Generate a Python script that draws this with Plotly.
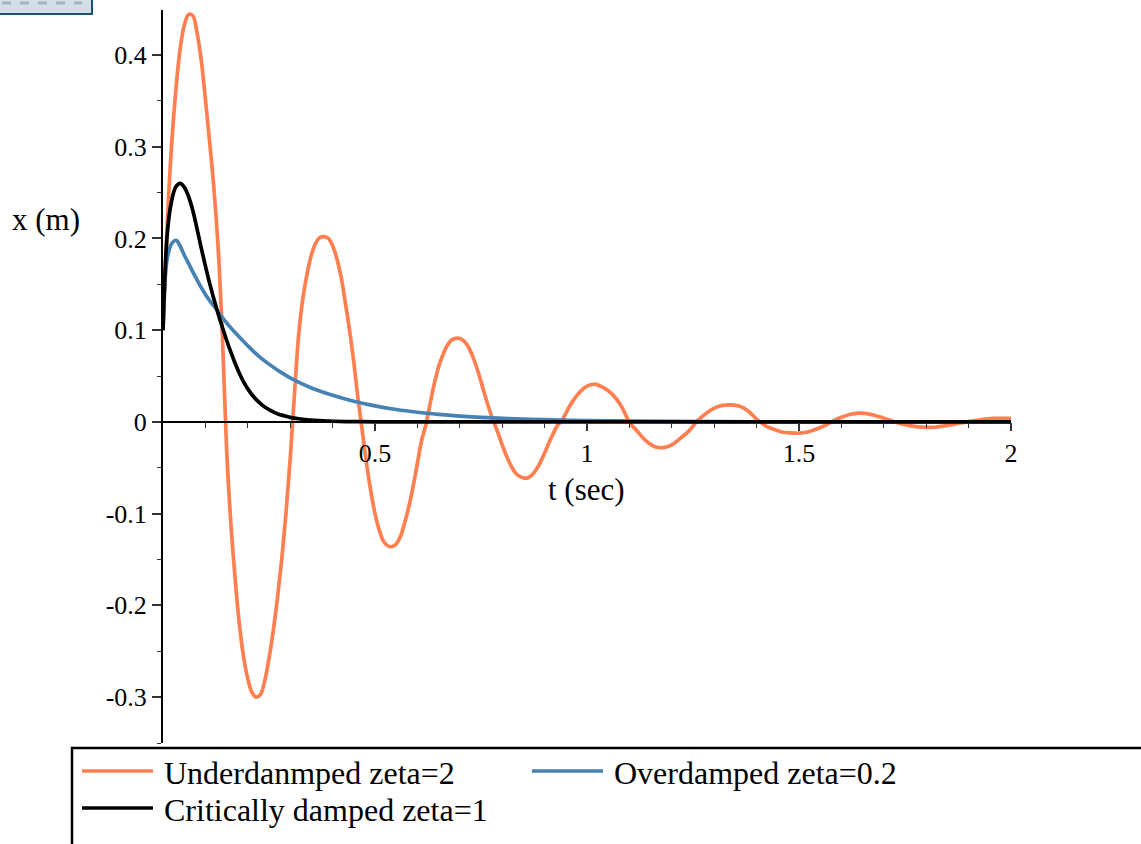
import plotly.graph_objects as go

# ---------------- data ----------------
t_under = [0.00, 0.01, 0.02, 0.03, 0.04, 0.05, 0.06, 0.07, 0.08, 0.09,
           0.10, 0.11, 0.12, 0.13, 0.14, 0.15, 0.16, 0.17, 0.18, 0.19,
           0.20, 0.21, 0.22, 0.23, 0.24, 0.25, 0.26, 0.27, 0.28, 0.29,
           0.30, 0.31, 0.32, 0.33, 0.34, 0.35, 0.36, 0.37, 0.38, 0.39,
           0.40, 0.41, 0.42, 0.43, 0.44, 0.45, 0.46, 0.47, 0.48, 0.49,
           0.50, 0.51, 0.52, 0.53, 0.54, 0.55, 0.56, 0.57, 0.58, 0.59,
           0.60, 0.61, 0.62, 0.63, 0.64, 0.65, 0.66, 0.67, 0.68, 0.69,
           0.70, 0.71, 0.72, 0.73, 0.74, 0.75, 0.76, 0.77, 0.78, 0.79,
           0.80, 0.81, 0.82, 0.83, 0.84, 0.85, 0.86, 0.87, 0.88, 0.89,
           0.90, 0.91, 0.92, 0.93, 0.94, 0.96, 0.98, 1.00, 1.02, 1.04,
           1.06, 1.08, 1.10, 1.12, 1.14, 1.16, 1.18, 1.20, 1.22, 1.24,
           1.26, 1.28, 1.30, 1.32, 1.34, 1.36, 1.38, 1.40, 1.42, 1.44,
           1.46, 1.48, 1.50, 1.52, 1.54, 1.56, 1.58, 1.60, 1.62, 1.64,
           1.66, 1.68, 1.70, 1.72, 1.74, 1.76, 1.78, 1.80, 1.82, 1.84,
           1.86, 1.88, 1.90, 1.92, 1.94, 1.96, 1.98, 2.00]
x_under = [0.100, 0.215, 0.300, 0.360, 0.405, 0.432, 0.444, 0.443, 0.425, 0.395,
           0.352, 0.305, 0.255, 0.190, 0.095, -0.030, -0.110, -0.170, -0.220, -0.256,
           -0.280, -0.295, -0.300, -0.297, -0.282, -0.258, -0.228, -0.192, -0.150, -0.100,
           -0.040, 0.030, 0.095, 0.135, 0.162, 0.182, 0.195, 0.201, 0.202, 0.200,
           0.192, 0.178, 0.158, 0.130, 0.100, 0.065, 0.025, -0.010, -0.045, -0.075,
           -0.100, -0.118, -0.130, -0.135, -0.136, -0.133, -0.125, -0.110, -0.092, -0.070,
           -0.045, -0.020, -0.003, 0.020, 0.042, 0.060, 0.073, 0.083, 0.089, 0.091,
           0.091, 0.088, 0.082, 0.072, 0.059, 0.044, 0.028, 0.013, 0.000, -0.012,
           -0.025, -0.037, -0.047, -0.055, -0.059, -0.061, -0.061, -0.058, -0.052, -0.044,
           -0.034, -0.023, -0.013, -0.004, 0.001, 0.018, 0.031, 0.039, 0.041, 0.037,
           0.030, 0.018, 0.000, -0.011, -0.021, -0.027, -0.028, -0.025, -0.018, -0.010,
           0.001, 0.009, 0.015, 0.018, 0.0185, 0.017, 0.012, 0.003, -0.004, -0.008,
           -0.011, -0.012, -0.0123, -0.011, -0.008, -0.004, 0.001, 0.005, 0.008, 0.0095,
           0.009, 0.007, 0.004, 0.001, -0.002, -0.004, -0.0055, -0.006, -0.0058, -0.0045,
           -0.003, -0.0012, 0.0003, 0.0018, 0.003, 0.0038, 0.004, 0.0038]

t_over = [0.000, 0.005, 0.010, 0.020, 0.031, 0.040, 0.050, 0.060, 0.080, 0.100,
          0.127, 0.150, 0.175, 0.200, 0.225, 0.250, 0.275, 0.300, 0.350, 0.400,
          0.450, 0.500, 0.550, 0.600, 0.650, 0.700, 0.750, 0.800, 0.900, 1.000,
          1.200, 1.400, 1.600, 2.000]
x_over = [0.100, 0.155, 0.178, 0.194, 0.198, 0.192, 0.182, 0.173, 0.155, 0.139,
          0.122, 0.108, 0.095, 0.083, 0.072, 0.063, 0.055, 0.048, 0.037, 0.029,
          0.0225, 0.0175, 0.0135, 0.0105, 0.0082, 0.0064, 0.0050, 0.0039, 0.0024, 0.0015,
          0.0006, 0.0002, 0.0001, 0.000]

t_crit = [0.00, 0.01, 0.02, 0.03, 0.04, 0.05, 0.06, 0.07, 0.08, 0.09,
          0.10, 0.11, 0.12, 0.13, 0.14, 0.15, 0.16, 0.17, 0.18, 0.19,
          0.20, 0.21, 0.22, 0.23, 0.24, 0.25, 0.26, 0.27, 0.28, 0.29,
          0.30, 0.31, 0.32, 0.33, 0.34, 0.35, 0.36, 0.37, 0.38, 0.39,
          0.40, 0.45, 0.50, 0.60, 0.80, 1.00, 1.50, 2.00]
x_crit = [0.100, 0.205, 0.240, 0.256, 0.260, 0.256, 0.246, 0.231, 0.211, 0.190,
          0.170, 0.151, 0.134, 0.118, 0.103, 0.089, 0.076, 0.064, 0.053, 0.0437,
          0.0360, 0.0296, 0.0243, 0.0199, 0.0163, 0.0134, 0.0110, 0.0090, 0.0074, 0.0061,
          0.0050, 0.0041, 0.0034, 0.0028, 0.0023, 0.0019, 0.0016, 0.0013, 0.0011, 0.0009,
          0.0007, 0.0003, 0.0001, 0.0, 0.0, 0.0, 0.0, 0.0]

series_names = ["Underdanmped zeta=2", "Overdamped zeta=0.2", "Critically damped zeta=1"]
series_colors = ["#FF7F50", "#4682B4", "#000000"]

x_tickvals = [0.5, 1, 1.5, 2]
x_ticktext = ["0.5", "1", "1.5", "2"]
x_minor = [0.1, 0.2, 0.3, 0.4, 0.6, 0.7, 0.8, 0.9, 1.1, 1.2, 1.3, 1.4, 1.6, 1.7, 1.8, 1.9]
y_tickvals = [-0.3, -0.2, -0.1, 0, 0.1, 0.2, 0.3, 0.4]
y_ticktext = ["-0.3", "-0.2", "-0.1", "0", "0.1", "0.2", "0.3", "0.4"]
y_minor = [-0.35, -0.25, -0.15, -0.05, 0.05, 0.15, 0.25, 0.35, 0.45]

# ---------------- figure ----------------
W, H = 1141, 844
ML, MR, MT, MB = 163, 130, 10, 101
PW, PH = W - ML - MR, H - MT - MB
YMIN, YMAX = -0.35, 0.449
FONT = "Liberation Serif, Times New Roman, Times, DejaVu Serif, serif"


def px_x(px):
    return (px - ML) / PW


def px_y(py):
    return (H - MB - py) / PH


fig = go.Figure()
for tt, xx, name, col in [(t_under, x_under, series_names[0], series_colors[0]),
                          (t_over, x_over, series_names[1], series_colors[1]),
                          (t_crit, x_crit, series_names[2], series_colors[2])]:
    fig.add_trace(go.Scatter(x=tt, y=xx, mode="lines", name=name,
                             line=dict(color=col, width=3.7, shape="spline", smoothing=1.0),
                             showlegend=False))

fig.update_layout(
    width=W, height=H,
    margin=dict(l=ML, r=MR, t=MT, b=MB, autoexpand=False),
    paper_bgcolor="white", plot_bgcolor="white",
    font=dict(family=FONT, color="black"),
    showlegend=False,
    xaxis=dict(range=[0, 2], anchor="free", position=(0 - YMIN) / (YMAX - YMIN),
               showline=True, linecolor="black", linewidth=2,
               showgrid=False, zeroline=False,
               tickmode="array", tickvals=x_tickvals, ticktext=x_ticktext,
               ticks="outside", ticklen=8, tickwidth=1.5, tickcolor="#333",
               tickfont=dict(family=FONT, size=26, color="black"),
               minor=dict(tickmode="array", tickvals=x_minor, ticks="outside",
                          ticklen=5, tickwidth=1, tickcolor="#333", showgrid=False)),
    yaxis=dict(range=[YMIN, YMAX], showline=True, linecolor="black", linewidth=2,
               showgrid=False, zeroline=False,
               tickmode="array", tickvals=y_tickvals, ticktext=y_ticktext,
               ticks="outside", ticklen=9, tickwidth=1.5, tickcolor="#333",
               tickfont=dict(family=FONT, size=26, color="black"),
               minor=dict(tickmode="array", tickvals=y_minor, ticks="outside",
                          ticklen=4, tickwidth=1, tickcolor="#333", showgrid=False)),
)

# axis titles
fig.add_annotation(text="x (m)", xref="paper", yref="paper", x=px_x(46), y=px_y(219),
                   xanchor="center", yanchor="middle", showarrow=False,
                   font=dict(family=FONT, size=31, color="black"))
fig.add_annotation(text="t (sec)", xref="paper", yref="paper", x=px_x(586), y=px_y(489),
                   xanchor="center", yanchor="middle", showarrow=False,
                   font=dict(family=FONT, size=31, color="black"))

# legend box (drawn manually, Maple style)
fig.add_shape(type="rect", xref="paper", yref="paper",
              x0=px_x(72), x1=px_x(1250), y0=px_y(748), y1=px_y(950),
              line=dict(color="black", width=2.5), fillcolor="rgba(0,0,0,0)")
legend_pos = [(82, 771), (532, 771), (82, 808)]
for (lx, ly), name, col in zip(legend_pos, series_names, series_colors):
    fig.add_shape(type="line", xref="paper", yref="paper",
                  x0=px_x(lx), x1=px_x(lx + 71), y0=px_y(ly), y1=px_y(ly),
                  line=dict(color=col, width=3.5))
    fig.add_annotation(text=name, xref="paper", yref="paper",
                       x=px_x(lx + 80), y=px_y(ly + 2), xanchor="left", yanchor="middle",
                       showarrow=False, font=dict(family=FONT, size=32, color="black"))

# Maple toolbar remnant at top-left
fig.add_shape(type="rect", xref="paper", yref="paper",
              x0=px_x(-4), x1=px_x(92), y0=px_y(14), y1=px_y(-6),
              line=dict(color="#1d5275", width=2), fillcolor="#d3dee6")
fig.add_shape(type="line", xref="paper", yref="paper",
              x0=px_x(2), x1=px_x(82), y0=px_y(3), y1=px_y(3),
              line=dict(color="#a7b3bb", width=3, dash="dash"))

fig.write_html("out.html", config={"displayModeBar": False},
               post_script="document.body.style.margin='0';document.body.style.overflow='hidden';")
